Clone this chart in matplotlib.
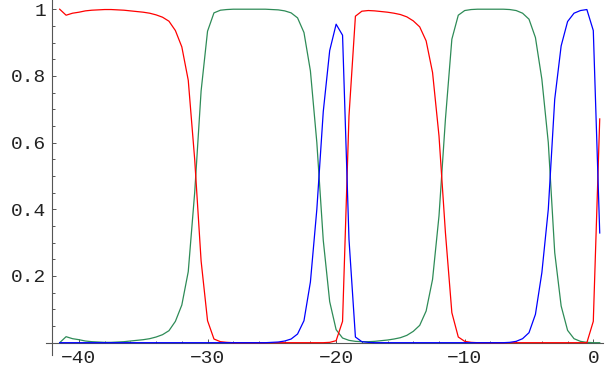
import numpy as np
import matplotlib
matplotlib.use("Agg")
import matplotlib.pyplot as plt
from matplotlib.ticker import FixedLocator

# sample grid of the three curves (step 0.5)
x = np.arange(-41.5, 0.51, 0.5)

red = [1.0, 0.982, 0.988, 0.991, 0.995, 0.997, 0.998, 0.999, 0.999, 0.998,
       0.997, 0.995, 0.993, 0.991, 0.988, 0.983, 0.976, 0.964, 0.936, 0.887,
       0.787, 0.55, 0.245, 0.066, 0.011, 0.003, 0.001, 0, 0, 0,
       0, 0, 0, 0, 0, 0, 0, 0, 0, 0,
       0, 0, 0.001, 0.006, 0.064, 0.68, 0.979, 0.994, 0.996, 0.995,
       0.993, 0.991, 0.988, 0.984, 0.977, 0.965, 0.947, 0.905, 0.81, 0.62,
       0.33, 0.09, 0.017, 0.004, 0.001, 0, 0, 0, 0, 0,
       0, 0, 0, 0, 0, 0, 0, 0, 0, 0,
       0, 0, 0, 0.064, 0.671]

green = [0, 0.018, 0.012, 0.009, 0.005, 0.003, 0.002, 0.001, 0.001, 0.002,
         0.003, 0.005, 0.007, 0.009, 0.012, 0.017, 0.024, 0.036, 0.064, 0.113,
         0.213, 0.45, 0.755, 0.934, 0.989, 0.997, 0.999, 1, 1, 1,
         1, 1, 1, 0.999, 0.998, 0.995, 0.989, 0.974, 0.93, 0.815,
         0.6, 0.307, 0.123, 0.039, 0.014, 0.007, 0.004, 0.003, 0.003, 0.004,
         0.006, 0.008, 0.011, 0.015, 0.022, 0.034, 0.052, 0.095, 0.19, 0.38,
         0.67, 0.91, 0.982, 0.996, 0.999, 1, 1, 1, 1, 1,
         0.999, 0.996, 0.988, 0.97, 0.915, 0.79, 0.6, 0.27, 0.11, 0.037,
         0.012, 0.004, 0.001, 0, 0]

blue = [0, 0, 0, 0, 0, 0, 0, 0, 0, 0,
        0, 0, 0, 0, 0, 0, 0, 0, 0, 0,
        0, 0, 0, 0, 0, 0, 0, 0, 0, 0,
        0, 0, 0, 0.001, 0.002, 0.005, 0.011, 0.026, 0.066, 0.182,
        0.4, 0.693, 0.876, 0.955, 0.922, 0.31, 0.017, 0.003, 0.001, 0,
        0, 0, 0, 0, 0, 0, 0, 0, 0, 0,
        0, 0, 0, 0, 0, 0, 0, 0, 0, 0,
        0.001, 0.004, 0.012, 0.03, 0.085, 0.21, 0.4, 0.73, 0.89, 0.963,
        0.988, 0.996, 0.999, 0.936, 0.329]

xticks = [-40, -30, -20, -10, 0]
xlabels = ['\u221240', '\u221230', '\u221220', '\u221210', '0']
yticks = [0.2, 0.4, 0.6, 0.8, 1.0]
ylabels = ['0.2', '0.4', '0.6', '0.8', '1']

fig = plt.figure(figsize=(6.05, 3.72), dpi=100)
ax = fig.add_axes([0, 0, 1, 1])

ax.plot(x, green, color='#2e8b57', lw=0.9, zorder=3)
ax.plot(x, red, color='#ff0000', lw=0.9, zorder=3)
ax.plot(x, blue, color='#0000ff', lw=0.9, zorder=3)

ax.set_xlim(-46.14, 0.91)
ax.set_ylim(-0.0879, 1.0276)

axis_col = '#555555'
ax.spines['top'].set_visible(False)
ax.spines['right'].set_visible(False)
ax.spines['left'].set_position(('data', -42.09))
ax.spines['bottom'].set_position(('data', 0))
ax.spines['left'].set_bounds(-0.038, 1.03)
ax.spines['bottom'].set_bounds(-42.6, 0.75)
for s in ['left', 'bottom']:
    ax.spines[s].set_color(axis_col)
    ax.spines[s].set_linewidth(0.8)

ax.xaxis.set_major_locator(FixedLocator(xticks))
ax.xaxis.set_minor_locator(FixedLocator([v for v in range(-38, 0, 2) if v % 10]))
ax.yaxis.set_major_locator(FixedLocator(yticks))
ax.yaxis.set_minor_locator(FixedLocator([k * 0.05 for k in range(1, 20) if k % 4]))
ax.set_xticklabels(xlabels)
ax.set_yticklabels(ylabels)

ax.tick_params(which='both', direction='in', color=axis_col, width=0.7,
               labelsize=14, labelcolor='#222222')
ax.tick_params(which='major', length=3.2)
ax.tick_params(which='minor', length=1.8)
ax.tick_params(axis='x', pad=5)
ax.tick_params(axis='y', pad=4)
for lab in ax.get_xticklabels() + ax.get_yticklabels():
    lab.set_fontfamily('Liberation Mono')

fig.savefig('out.png', dpi=100)
